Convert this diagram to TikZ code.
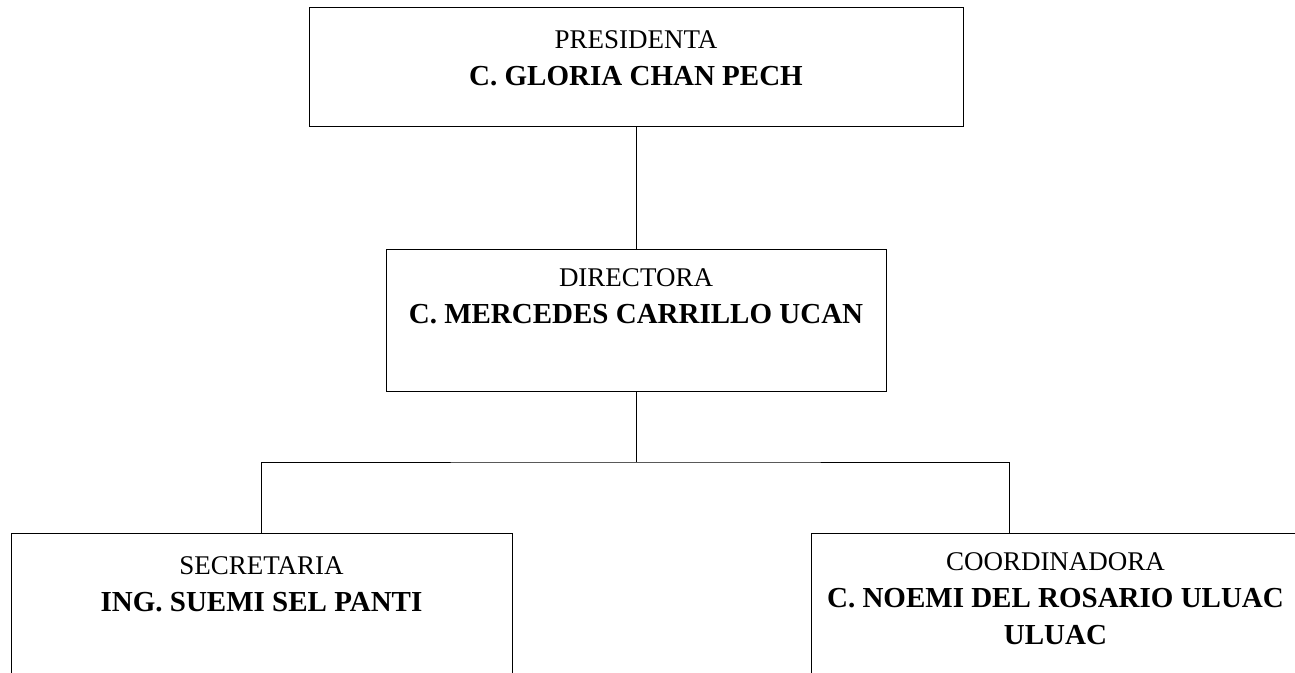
\documentclass[tikz,border=0pt]{standalone}
\usepackage{fontspec}
\setmainfont{Liberation Serif}
\usetikzlibrary{positioning}

\begin{document}
\begin{tikzpicture}[x=1pt,y=1pt,yscale=-1,xscale=1,
    cargo/.style={draw, line width=0.9pt, inner sep=0pt},
    rotulo/.style={inner sep=0pt, align=center, font=\fontsize{27}{37}\selectfont},
    enlace/.style={line width=0.9pt}]
  \clip (0,0) rectangle (1295,672);
  \fill[white] (0,0) rectangle (1295,672);

  % boxes
  \node[cargo, minimum width=654, minimum height=119] (pres) at (636,66.5) {};
  \node[cargo, minimum width=500, minimum height=142] (dir) at (636,320) {};
  \node[cargo, minimum width=501, minimum height=157] (sec) at (261.5,611.5) {};
  \node[cargo, minimum width=489, minimum height=157] (coord) at (1055.5,611.5) {};

  % Text Node
  \node[rotulo, below=24 of pres.north] (pres-t) {PRESIDENTA\\\textbf{\fontsize{29}{37}\selectfont C. GLORIA CHAN PECH}};
  \node[rotulo, below=20 of dir.north] (dir-t) {DIRECTORA\\\textbf{\fontsize{29}{37}\selectfont C. MERCEDES CARRILLO UCAN}};
  \node[rotulo, below=24 of sec.north] (sec-t) {SECRETARIA\\\textbf{\fontsize{29}{37}\selectfont ING. SUEMI SEL PANTI}};
  \node[rotulo, below=20 of coord.north] (coord-t) {COORDINADORA\\\textbf{\fontsize{29}{37}\selectfont C. NOEMI DEL ROSARIO ULUAC}\\\textbf{\fontsize{29}{37}\selectfont ULUAC}};

  % lines
  \coordinate (bus) at (636,462);
  \coordinate (cder) at (1009,533);
  \draw[enlace] (pres.south) -- (dir.north);
  \draw[enlace] (dir.south) -- (bus);
  \draw[enlace] (sec.north) |- (bus) -| (cder);
\end{tikzpicture}
\end{document}
